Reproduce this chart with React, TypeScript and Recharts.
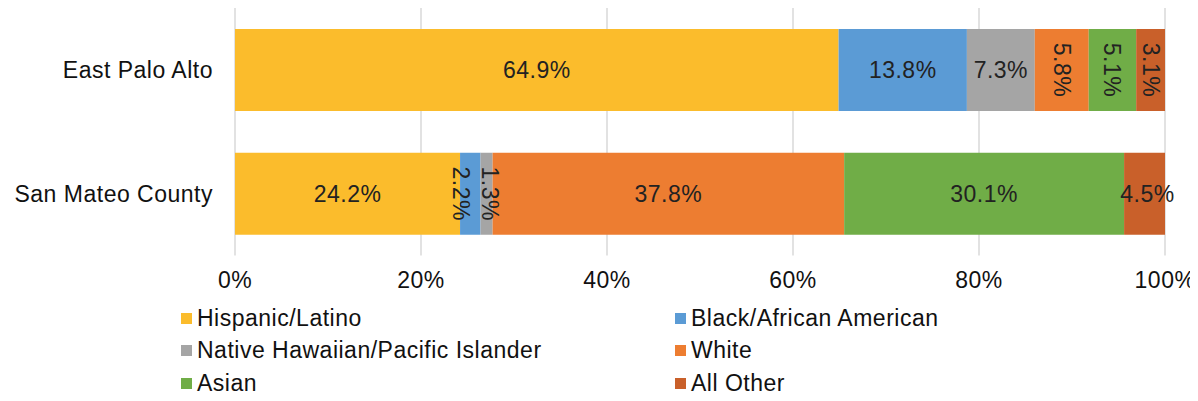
import React from 'react';
import {
    BarChart,
    Bar,
    XAxis,
    YAxis,
    CartesianGrid,
    Legend,
    LabelList
} from 'recharts';

/* ============================
   Data
============================ */

const categories = ['East Palo Alto', 'San Mateo County'];

const seriesNames = [
    'Hispanic/Latino',
    'Black/African American',
    'Native Hawaiian/Pacific Islander',
    'White',
    'Asian',
    'All Other',
];

const hispanicLatino = [64.9, 24.2];
const blackAfricanAmerican = [13.8, 2.2];
const nativeHawaiian = [7.3, 1.3];
const white = [5.8, 37.8];
const asian = [5.1, 30.1];
const allOther = [3.1, 4.5];

const xTicks = [0, 20, 40, 60, 80, 100];

// which labels are drawn vertically, per series, per category
const rotatedLabels = [
    [false, false],
    [false, true],
    [false, true],
    [true, false],
    [true, false],
    [true, false],
];

// small horizontal nudges (px) so the narrow labels don't collide
const labelNudge = [
    [0, 0],
    [0, -9],
    [0, 3],
    [0, 0],
    [0, 0],
    [0, 3],
];

const COLORS = ['#FBBC2C', '#5B9BD5', '#A5A5A5', '#ED7D31', '#70AD47', '#C9602A'];

const seriesValues = [hispanicLatino, blackAfricanAmerican, nativeHawaiian, white, asian, allOther];

const data = categories.map((name, i) => {
    const row: Record<string, string | number> = { name };
    seriesNames.forEach((s, j) => {
        row[s] = seriesValues[j][i];
    });
    return row;
});

const FONT = 'Arial, "Liberation Sans", sans-serif';
const FONT_SIZE = 23;
const SPACING = 0.5;

/* ============================
   Labels & Legend
============================ */

const makeLabel = (seriesIndex: number) => (props: any) => {
    const { x, y, width, height, value, index } = props;
    const cx = Number(x) + Number(width) / 2 + labelNudge[seriesIndex][index];
    const cy = Number(y) + Number(height) / 2;
    const rotated = rotatedLabels[seriesIndex][index];
    return (
        <text
            x={cx}
            y={cy}
            textAnchor="middle"
            dominantBaseline="central"
            fontSize={FONT_SIZE}
            fontFamily={FONT}
            letterSpacing={SPACING}
            fill="#222"
            transform={rotated ? `rotate(90 ${cx} ${cy})` : undefined}
        >
            {`${Number(value).toFixed(1)}%`}
        </text>
    );
};

const renderLegend = () => (
    <div
        style={{
            display: 'grid',
            gridTemplateColumns: '494px auto',
            paddingLeft: 173,
            fontFamily: FONT,
            fontSize: FONT_SIZE,
            letterSpacing: SPACING,
            color: '#111',
        }}
    >
        {seriesNames.map((s, i) => (
            <div
                key={s}
                style={{ display: 'flex', alignItems: 'center', height: 32.5 }}
            >
                <span
                    style={{
                        display: 'inline-block',
                        width: 11,
                        height: 11,
                        background: COLORS[i],
                        marginRight: 5,
                    }}
                />
                <span>{s}</span>
            </div>
        ))}
    </div>
);

const tickStyle = {
    fontSize: FONT_SIZE,
    fontFamily: FONT,
    letterSpacing: SPACING,
    fill: '#111',
};

/* ============================
   Component
============================ */

const App: React.FC = () => {
    return (
        <BarChart
            width={1190}
            height={385}
            data={data}
            layout="vertical"
            barCategoryGap="17%"
            margin={{ top: 0, right: 33, bottom: 0, left: 0 }}
        >
            <CartesianGrid horizontal={false} stroke="#D9D9D9" strokeWidth={1.5} />
            <XAxis
                type="number"
                domain={[0, 100]}
                ticks={xTicks}
                allowDataOverflow
                tickFormatter={(v) => `${v}%`}
                axisLine={false}
                tickLine={false}
                tickMargin={10}
                height={40}
                interval={0}
                tick={tickStyle}
            />
            <YAxis
                type="category"
                dataKey="name"
                width={227}
                axisLine={false}
                tickLine={false}
                tickMargin={16}
                tick={tickStyle}
            />
            <Legend
                content={renderLegend}
                verticalAlign="bottom"
                wrapperStyle={{ top: 294, left: 0, width: 1190 }}
            />
            {seriesNames.map((s, i) => (
                <Bar
                    key={s}
                    dataKey={s}
                    stackId="a"
                    fill={COLORS[i]}
                    isAnimationActive={false}
                >
                    <LabelList dataKey={s} content={makeLabel(i)} />
                </Bar>
            ))}
        </BarChart>
    );
};

export default App;
